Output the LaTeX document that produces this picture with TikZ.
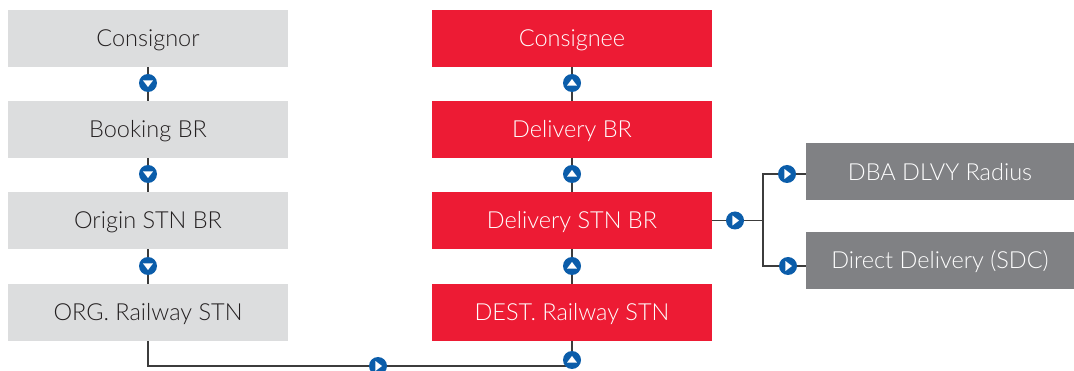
\documentclass[tikz,border=0pt]{standalone}
\usepackage{fontspec}
\setmainfont{Lato}[UprightFont=* Light]
\usepackage{xcolor}
\usepackage{tikz}
\definecolor{boxgray}{HTML}{DCDDDE}
\definecolor{boxred}{HTML}{ED1B34}
\definecolor{boxdark}{HTML}{808184}
\definecolor{inkdark}{HTML}{231F20}
\definecolor{dotblue}{HTML}{0B5DAA}
\definecolor{linegray}{HTML}{3C3C3C}
\pgfdeclarelayer{back}
\pgfsetlayers{back,main}

\begin{document}
\begin{tikzpicture}[x=1pt,y=-1pt,
  box/.style={minimum width=280pt,minimum height=57pt,inner sep=0pt,font=\fontsize{23.5}{28}\selectfont,text height=16.8pt,text depth=0pt},
  srcbox/.style={box,fill=boxgray,text=inkdark},
  dstbox/.style={box,fill=boxred,text=white},
  optbox/.style={box,fill=boxdark,text=white,minimum width=268pt},
  flowdot/.style={circle,fill=dotblue,inner sep=0pt,minimum size=18pt,
    path picture={\fill[white] ([shift={(#1:4pt)}]path picture bounding box.center)
      -- ([shift={(#1+117:5.6pt)}]path picture bounding box.center)
      -- ([shift={(#1-117:5.6pt)}]path picture bounding box.center) -- cycle;}},
  link/.style={draw=linegray,line width=1.3pt}]
\useasboundingbox (0,0) rectangle (1074,371);
%Boxes
\node[srcbox] (cnor) at (148,38.5) {Consignor};
\node[srcbox] (bkbr) at (148,129.5) {Booking BR};
\node[srcbox] (orbr) at (148,220.5) {Origin STN BR};
\node[srcbox] (orstn) at (148,312.5) {ORG. Railway STN};
\node[dstbox] (cnee) at (572,38.5) {Consignee};
\node[dstbox] (dlbr) at (572,129.5) {Delivery BR};
\node[dstbox] (dlstnbr) at (572,220.5) {Delivery STN BR};
\node[dstbox] (dststn) at (572,312.5) {DEST. Railway STN};
\node[optbox] (dba) at (940,172) {DBA DLVY Radius};
\node[optbox] (sdc) at (940,260.5) {Direct Delivery (SDC)};
%Dots
\node[flowdot=-90] (p1) at (148,83) {};
\node[flowdot=-90] (p2) at (148,174) {};
\node[flowdot=-90] (p3) at (148,266) {};
\node[flowdot=90] (q1) at (572,83) {};
\node[flowdot=90] (q2) at (572,174) {};
\node[flowdot=90] (q3) at (572,266) {};
\node[flowdot=90] (q4) at (572,360) {};
\node[flowdot=0] (m) at (378,366) {};
\node[flowdot=0] (r0) at (735,220.5) {};
\node[flowdot=0] (r1) at (787,174) {};
\node[flowdot=0] (r2) at (788,266) {};
\coordinate (fork) at (763,220.5);
%Lines
\begin{pgfonlayer}{back}
\draw[link] (cnor) -- (bkbr) -- (orbr) -- (orstn);
\draw[link] (cnee) -- (dlbr) -- (dlstnbr) -- (dststn);
\draw[link] (orstn) |- (m) -| (dststn);
\draw[link] (dlstnbr) -- (fork);
\draw[link] (fork) |- (r1) -- (r1 -| dba.west);
\draw[link] (fork) |- (r2) -- (r2 -| sdc.west);
\end{pgfonlayer}
\end{tikzpicture}
\end{document}
